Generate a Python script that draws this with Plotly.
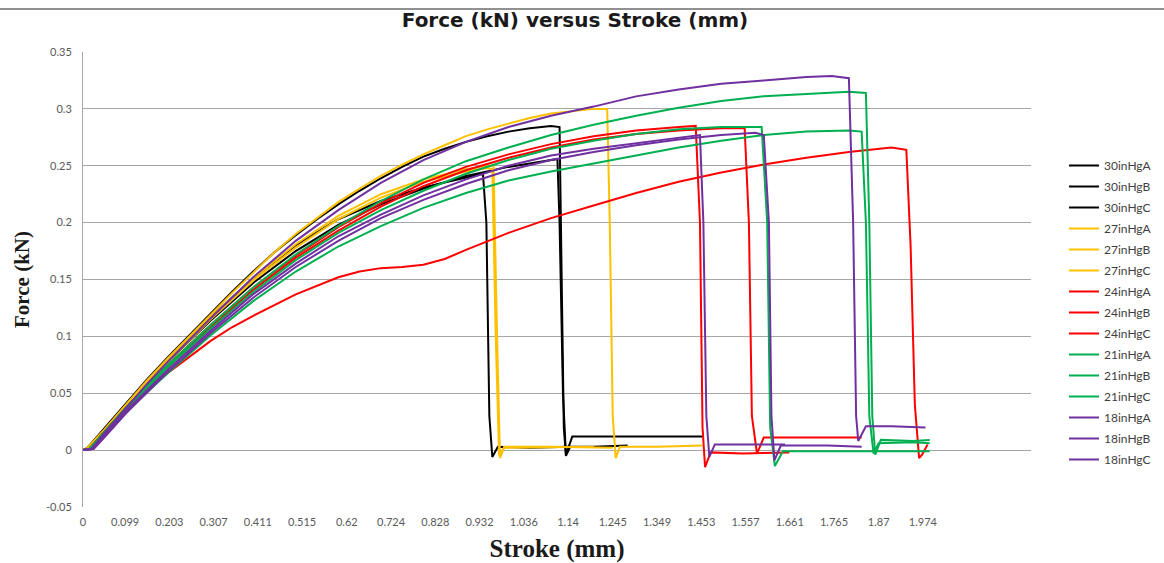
import plotly.graph_objects as go

# ---------------- data ----------------
series_names = ["30inHgA", "30inHgB", "30inHgC", "27inHgA", "27inHgB", "27inHgC",
                "24inHgA", "24inHgB", "24inHgC", "21inHgA", "21inHgB", "21inHgC",
                "18inHgA", "18inHgB", "18inHgC"]

x_30A = [0, 0.01, 0.05, 0.1, 0.15, 0.2, 0.25, 0.3, 0.35, 0.4, 0.45, 0.5, 0.55, 0.6, 0.65, 0.7, 0.75, 0.8, 0.85, 0.9, 0.95, 1.0, 1.05, 1.1, 1.12, 1.125, 1.13, 1.135, 1.145, 1.2, 1.28]
y_30A = [0, 0.002, 0.019, 0.041, 0.062, 0.082, 0.101, 0.120, 0.139, 0.157, 0.174, 0.189, 0.203, 0.216, 0.228, 0.239, 0.249, 0.258, 0.265, 0.271, 0.276, 0.280, 0.283, 0.285, 0.284, 0.15, 0.02, -0.005, 0.003, 0.003, 0.004]

x_30B = [0, 0.015, 0.05, 0.1, 0.2, 0.3, 0.4, 0.5, 0.6, 0.7, 0.8, 0.9, 1.0, 1.05, 1.1, 1.115, 1.12, 1.128, 1.135, 1.15, 1.3, 1.455]
y_30B = [0, 0.001, 0.017, 0.039, 0.078, 0.114, 0.147, 0.175, 0.198, 0.216, 0.230, 0.241, 0.249, 0.252, 0.255, 0.256, 0.2, 0.05, -0.004, 0.012, 0.012, 0.012]

x_30C = [0, 0.015, 0.05, 0.1, 0.2, 0.3, 0.4, 0.5, 0.6, 0.7, 0.8, 0.9, 0.94, 0.948, 0.955, 0.962, 0.975, 1.05, 1.14]
y_30C = [0, 0.001, 0.018, 0.040, 0.080, 0.117, 0.151, 0.180, 0.203, 0.219, 0.231, 0.240, 0.243, 0.2, 0.03, -0.006, 0.003, 0.002, 0.003]

x_27A = [0, 0.01, 0.05, 0.1, 0.15, 0.2, 0.25, 0.3, 0.35, 0.4, 0.45, 0.5, 0.55, 0.6, 0.65, 0.7, 0.75, 0.8, 0.85, 0.9, 0.95, 1.0, 1.05, 1.1, 1.15, 1.2, 1.232, 1.238, 1.245, 1.252, 1.262, 1.35, 1.455]
y_27A = [0, 0.002, 0.018, 0.040, 0.061, 0.081, 0.100, 0.119, 0.138, 0.156, 0.174, 0.190, 0.204, 0.218, 0.230, 0.241, 0.251, 0.260, 0.268, 0.276, 0.282, 0.287, 0.292, 0.296, 0.298, 0.300, 0.300, 0.2, 0.03, -0.007, 0.003, 0.003, 0.004]

x_27B = [0, 0.015, 0.05, 0.1, 0.2, 0.3, 0.4, 0.5, 0.6, 0.7, 0.8, 0.9, 0.95, 0.965, 0.972, 0.98, 0.99, 1.1, 1.245]
y_27B = [0, 0.001, 0.017, 0.039, 0.079, 0.117, 0.151, 0.181, 0.206, 0.225, 0.238, 0.247, 0.250, 0.25, 0.12, -0.007, 0.003, 0.003, 0.002]

x_27C = [0, 0.015, 0.05, 0.1, 0.2, 0.3, 0.4, 0.5, 0.6, 0.7, 0.8, 0.9, 0.95, 0.962, 0.97, 0.978, 0.99, 1.2]
y_27C = [0, 0.001, 0.017, 0.039, 0.078, 0.115, 0.149, 0.178, 0.203, 0.222, 0.236, 0.245, 0.248, 0.247, 0.1, -0.005, 0.002, 0.003]

x_24A = [0, 0.015, 0.05, 0.1, 0.2, 0.3, 0.4, 0.5, 0.6, 0.7, 0.8, 0.9, 1.0, 1.1, 1.2, 1.3, 1.4, 1.44, 1.45, 1.456, 1.462, 1.475, 1.55, 1.66]
y_24A = [0, 0.001, 0.016, 0.037, 0.075, 0.110, 0.143, 0.171, 0.196, 0.217, 0.235, 0.249, 0.260, 0.269, 0.276, 0.281, 0.284, 0.285, 0.2, 0.02, -0.015, -0.002, -0.003, -0.002]

x_24B = [0, 0.015, 0.05, 0.1, 0.2, 0.3, 0.4, 0.5, 0.6, 0.7, 0.8, 0.9, 1.0, 1.1, 1.2, 1.3, 1.4, 1.5, 1.555, 1.565, 1.572, 1.584, 1.6, 1.7, 1.83]
y_24B = [0, 0.001, 0.016, 0.036, 0.074, 0.108, 0.141, 0.169, 0.193, 0.214, 0.232, 0.246, 0.257, 0.266, 0.273, 0.278, 0.281, 0.283, 0.283, 0.2, 0.03, -0.003, 0.011, 0.011, 0.011]

x_24C = [0, 0.015, 0.05, 0.1, 0.15, 0.2, 0.25, 0.3, 0.35, 0.4, 0.5, 0.6, 0.65, 0.7, 0.75, 0.8, 0.85, 0.9, 1.0, 1.1, 1.2, 1.3, 1.4, 1.5, 1.6, 1.7, 1.8, 1.85, 1.9, 1.935, 1.945, 1.955, 1.965, 1.972, 1.985]
y_24C = [0, 0.001, 0.015, 0.035, 0.052, 0.068, 0.082, 0.096, 0.108, 0.118, 0.137, 0.152, 0.157, 0.160, 0.161, 0.163, 0.168, 0.176, 0.191, 0.204, 0.215, 0.226, 0.236, 0.244, 0.251, 0.257, 0.262, 0.264, 0.266, 0.264, 0.18, 0.04, -0.007, -0.004, 0.005]

x_21A = [0, 0.015, 0.05, 0.1, 0.2, 0.3, 0.4, 0.5, 0.6, 0.7, 0.8, 0.9, 1.0, 1.1, 1.2, 1.3, 1.4, 1.5, 1.6, 1.7, 1.8, 1.84, 1.848, 1.855, 1.862, 1.875, 1.95, 1.99]
y_21A = [0, 0.001, 0.016, 0.037, 0.075, 0.110, 0.143, 0.172, 0.197, 0.219, 0.238, 0.254, 0.266, 0.277, 0.286, 0.294, 0.301, 0.307, 0.311, 0.313, 0.315, 0.314, 0.2, 0.03, -0.004, 0.009, 0.008, 0.009]

x_21B = [0, 0.015, 0.05, 0.1, 0.2, 0.3, 0.4, 0.5, 0.6, 0.7, 0.8, 0.9, 1.0, 1.1, 1.2, 1.3, 1.4, 1.5, 1.595, 1.608, 1.615, 1.626, 1.645, 1.8, 1.99]
y_21B = [0, 0.001, 0.015, 0.036, 0.073, 0.107, 0.139, 0.167, 0.191, 0.211, 0.228, 0.243, 0.255, 0.265, 0.272, 0.278, 0.282, 0.284, 0.284, 0.2, 0.02, -0.014, -0.001, -0.001, -0.001]

x_21C = [0, 0.02, 0.05, 0.1, 0.2, 0.3, 0.4, 0.5, 0.6, 0.7, 0.8, 0.9, 1.0, 1.1, 1.2, 1.3, 1.4, 1.5, 1.6, 1.7, 1.8, 1.83, 1.84, 1.848, 1.858, 1.87, 1.95, 1.99]
y_21C = [0, 0.001, 0.013, 0.033, 0.068, 0.101, 0.131, 0.157, 0.179, 0.197, 0.213, 0.226, 0.237, 0.245, 0.252, 0.259, 0.266, 0.272, 0.277, 0.280, 0.281, 0.280, 0.2, 0.03, -0.003, 0.006, 0.007, 0.006]

x_18A = [0, 0.02, 0.05, 0.1, 0.15, 0.2, 0.3, 0.4, 0.5, 0.6, 0.7, 0.8, 0.9, 1.0, 1.1, 1.2, 1.3, 1.4, 1.5, 1.6, 1.7, 1.76, 1.8, 1.81, 1.817, 1.822, 1.84, 1.9, 1.98]
y_18A = [0, 0.001, 0.015, 0.037, 0.058, 0.078, 0.116, 0.152, 0.184, 0.211, 0.235, 0.255, 0.271, 0.284, 0.294, 0.302, 0.311, 0.317, 0.322, 0.325, 0.328, 0.329, 0.327, 0.2, 0.03, 0.008, 0.021, 0.021, 0.020]

x_18B = [0, 0.02, 0.05, 0.1, 0.2, 0.3, 0.4, 0.5, 0.6, 0.7, 0.8, 0.9, 1.0, 1.1, 1.2, 1.3, 1.4, 1.45, 1.458, 1.465, 1.472, 1.485, 1.6, 1.65]
y_18B = [0, 0.001, 0.013, 0.034, 0.071, 0.105, 0.137, 0.164, 0.188, 0.207, 0.224, 0.238, 0.250, 0.259, 0.265, 0.270, 0.275, 0.277, 0.2, 0.03, -0.006, 0.005, 0.005, 0.005]

x_18C = [0, 0.025, 0.05, 0.1, 0.2, 0.3, 0.4, 0.5, 0.6, 0.7, 0.8, 0.9, 1.0, 1.1, 1.2, 1.3, 1.4, 1.5, 1.58, 1.6, 1.612, 1.618, 1.625, 1.64, 1.75, 1.83]
y_18C = [0, 0.001, 0.011, 0.032, 0.069, 0.103, 0.134, 0.161, 0.184, 0.204, 0.220, 0.234, 0.246, 0.255, 0.262, 0.268, 0.273, 0.277, 0.279, 0.277, 0.2, 0.03, -0.009, 0.004, 0.004, 0.003]

x_tick_values = [0, 0.099, 0.203, 0.307, 0.411, 0.515, 0.62, 0.724, 0.828, 0.932, 1.036,
                 1.14, 1.245, 1.349, 1.453, 1.557, 1.661, 1.765, 1.87, 1.974]
x_tick_labels = ["0", "0.099", "0.203", "0.307", "0.411", "0.515", "0.62", "0.724", "0.828", "0.932", "1.036",
                 "1.14", "1.245", "1.349", "1.453", "1.557", "1.661", "1.765", "1.87", "1.974"]
y_tick_values = [-0.05, 0, 0.05, 0.1, 0.15, 0.2, 0.25, 0.3, 0.35]
y_tick_labels = ["-0.05", "0", "0.05", "0.1", "0.15", "0.2", "0.25", "0.3", "0.35"]

# ---------------- figure ----------------
xs = [x_30A, x_30B, x_30C, x_27A, x_27B, x_27C, x_24A, x_24B, x_24C, x_21A, x_21B, x_21C, x_18A, x_18B, x_18C]
ys = [y_30A, y_30B, y_30C, y_27A, y_27B, y_27C, y_24A, y_24B, y_24C, y_21A, y_21B, y_21C, y_18A, y_18B, y_18C]
group_colors = ["#000000"] * 3 + ["#FFC000"] * 3 + ["#FF0000"] * 3 + ["#00B050"] * 3 + ["#7030A0"] * 3

fig = go.Figure()
for name, x, y, c in zip(series_names, xs, ys, group_colors):
    fig.add_trace(go.Scatter(x=x, y=y, mode="lines", name=name, legendgroup=name,
                             line=dict(color=c, width=2)))

tick_font = dict(family="Lato, Open Sans, sans-serif", size=11, color="#595959")

L, R, T, B = 83, 1031, 52, 507
PW, PH = R - L, B - T

fig.update_layout(
    width=1164, height=563,
    margin=dict(l=L, r=1164 - R, t=T, b=563 - B, autoexpand=False),
    paper_bgcolor="white", plot_bgcolor="white",
    title=dict(text="<b>Force (kN) versus Stroke (mm)</b>", x=575 / 1164, xanchor="center",
               y=1 - 20 / 563, yanchor="middle",
               font=dict(family="DejaVu Sans, sans-serif", size=20, color="#1a1a1a")),
    showlegend=True,
    legend=dict(x=(1064 - L) / PW, y=(B - 151) / PH, xanchor="left", yanchor="top",
                font=dict(family="Lato, Open Sans, sans-serif", size=12, color="#404040"),
                itemwidth=30, tracegroupgap=2, bgcolor="rgba(0,0,0,0)"),
    xaxis=dict(range=[0, 2.228], tickmode="array", tickvals=x_tick_values, ticktext=x_tick_labels,
               showgrid=False, zeroline=False, showline=False, ticks="", tickfont=tick_font,
               automargin=False, ticklabelstandoff=7,
               title=dict(text="<b>Stroke (mm)</b>", standoff=16,
                          font=dict(family="Liberation Serif, Times New Roman, serif", size=25, color="#1a1a1a"))),
    yaxis=dict(range=[-0.05, 0.35], tickmode="array", tickvals=y_tick_values, ticktext=y_tick_labels,
               showgrid=True, gridcolor="#a6a6a6", gridwidth=1, zeroline=False,
               showline=True, linecolor="#a6a6a6", linewidth=1, ticks="", tickfont=tick_font,
               automargin=False, ticklabelstandoff=8,
               title=dict(text="<b>Force (kN)</b>", standoff=10,
                          font=dict(family="Liberation Serif, Times New Roman, serif", size=21, color="#1a1a1a"))),
    shapes=[dict(type="line", xref="paper", yref="paper",
                 x0=-L / PW, x1=(1164 - L) / PW, y0=(B - 9) / PH, y1=(B - 9) / PH,
                 line=dict(color="#222222", width=1))],
)

fig.write_html("out.html", config={"displayModeBar": False},
               post_script="document.body.style.margin='0';")
